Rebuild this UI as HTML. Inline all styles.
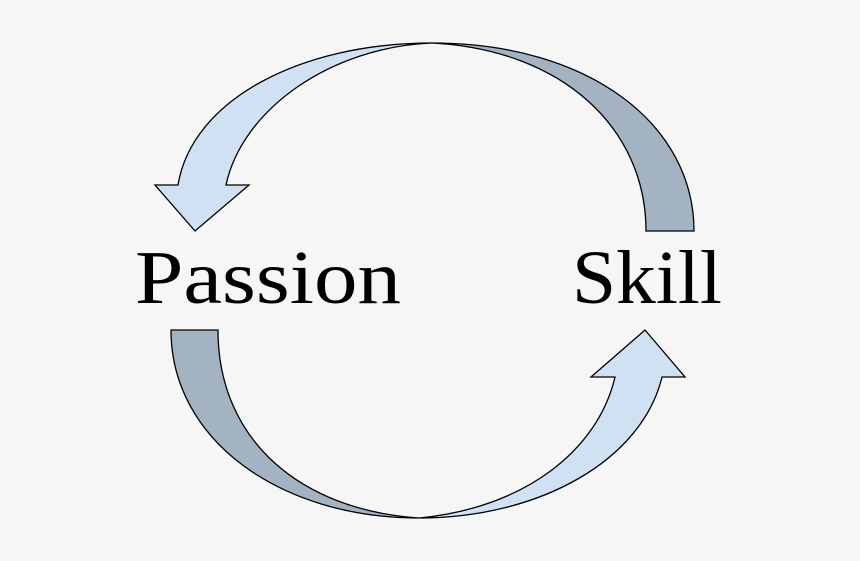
<!DOCTYPE html>
<html><head><style>html,body{margin:0;padding:0;background:#f6f6f6}svg{display:block}</style></head>
<body>
<svg width="860" height="561" viewBox="0 0 860 561" xmlns="http://www.w3.org/2000/svg">
<rect width="860" height="561" fill="#f6f6f6"/>
<g stroke="#000" stroke-width="1.3" stroke-linejoin="miter">
<path d="M432,43 C300,43 192,100 178,185 L155,185 L195,231 L249,185 L226,185 C242,110 330,47 432,43 Z" fill="#cfe1f2"/>
<path d="M432,43 C590,43 694,125 694,231 L646,231 C646,130 565,50 432,43 Z" fill="#a4b3c2"/>
<path d="M171,330 L218,330 C218,440 300,510 419,518 C280,518 171,440 171,330 Z" fill="#a4b3c2"/>
<path d="M419,518 C540,518 642,460 662,377 L685,377 L645,330 L591,377 L615,377 C598,450 525,508 419,518 Z" fill="#cfe1f2"/>
</g>
<g style="font-family:'Liberation Serif',serif" font-size="76" fill="#000">
<text x="135" y="303" textLength="266" lengthAdjust="spacingAndGlyphs">Passion</text>
<text x="572" y="303" textLength="150" lengthAdjust="spacingAndGlyphs">Skill</text>
</g>
</svg>
</body></html>
